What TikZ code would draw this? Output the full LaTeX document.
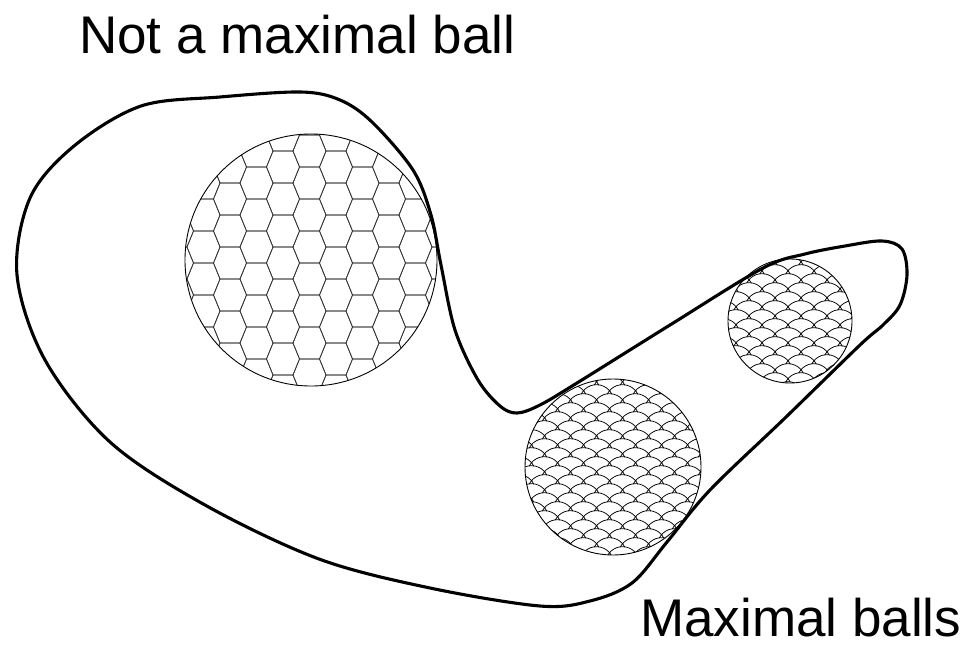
\documentclass[tikz,border=0pt]{standalone}
\usepackage{fontspec}
\setmainfont{Liberation Sans}
\begin{document}
\begin{tikzpicture}[x=1pt,y=-1pt,
  ballrim/.style={draw=black,line width=0.9pt},
  hexline/.style={draw=black!80,line width=0.7pt},
  scaleline/.style={draw=black,line width=0.75pt},
  outline/.style={draw=black,line width=3.1pt,line join=round},
  lbl/.style={font=\fontsize{53}{60}\selectfont,inner sep=0pt,anchor=base west}]
\useasboundingbox (0,0) rectangle (967,645);
\coordinate (hc) at (311,260);
\coordinate (lc) at (613,467);
\coordinate (sc) at (790,321);
% hexagon ball
\begin{scope}
\clip (hc) circle[radius=126];
\foreach \i in {-6,-4,...,6}{
 \foreach \j in {-2,...,7}{
   \pgfmathsetmacro\cx{283+\i*26.5}
   \pgfmathsetmacro\cy{167+\j*32}
   \draw[hexline,shift={(\cx,\cy)}] (-10,-16) -- (10,-16) -- (16.5,0) -- (10,16) -- (-10,16) -- (-16.5,0) -- cycle;
   \draw[hexline,shift={(\cx+26.5,\cy+16)}] (-10,-16) -- (10,-16) -- (16.5,0) -- (10,16) -- (-10,16) -- (-16.5,0) -- cycle;
 }}
\end{scope}
\draw[ballrim] (hc) circle[radius=126];
% lower scale ball
\begin{scope}
\clip (lc) circle[radius=88];
\foreach \r in {-6,...,15}{
 \pgfmathsetmacro\cy{437.65+\r*9}
 \pgfmathsetmacro\off{mod(abs(\r),2)*13}
 \foreach \k in {-4,...,5}{
   \pgfmathsetmacro\cx{596.5+\k*26+\off}
   \draw[scaleline] (\cx,\cy) ++(-154:17) arc[start angle=-154,end angle=-26,radius=17];
 }}
\end{scope}
\draw[ballrim] (lc) circle[radius=88];
% small scale ball
\begin{scope}
\clip (sc) circle[radius=62];
\foreach \r in {-6,...,10}{
 \pgfmathsetmacro\cy{317.65+\r*9}
 \pgfmathsetmacro\off{mod(abs(\r),2)*13}
 \foreach \k in {-3,...,4}{
   \pgfmathsetmacro\cx{775+\k*26+\off}
   \draw[scaleline] (\cx,\cy) ++(-154:17) arc[start angle=-154,end angle=-26,radius=17];
 }}
\end{scope}
\draw[ballrim] (sc) circle[radius=62];
% outline
\draw[outline] plot[smooth cycle, tension=0.55] coordinates {
 (220,97) (301,92) (340,100) (372,122) (413,170) (431,215) (441,265)
 (455,330) (478,380) (500,406) (517,413) (540,405) (577,383) (670,325)
 (763,268) (805,254) (845,246) (882,241) (902,249) (907,275) (900,305)
 (883,325) (860,345) (785,418) (710,490) (667,542) (632,583)
 (590,601) (540,606) (430,588) (319,559) (205,505) (110,442) (45,360)
 (17,275) (30,198) (74,146) (141,106)};
% labels
\node[lbl] (top) at (79,53) {Not a maximal ball};
\node[lbl] (bot) at (640,636) {Maximal balls};
\end{tikzpicture}
\end{document}
